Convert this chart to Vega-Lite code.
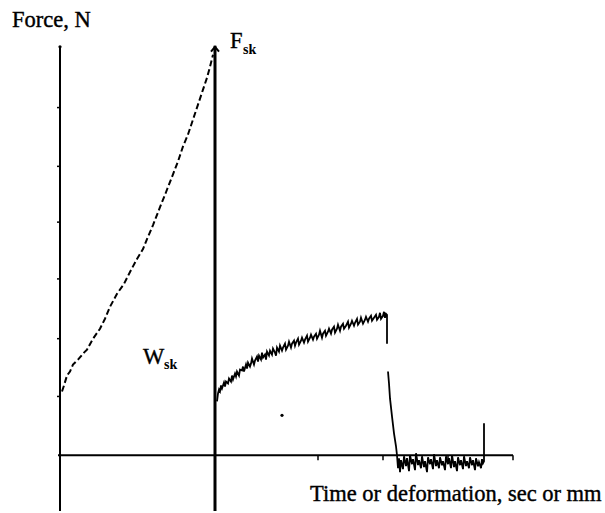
{
  "$schema": "https://vega.github.io/schema/vega-lite/v6.json",
  "width": 605,
  "height": 513,
  "padding": 0,
  "autosize": {"type": "fit", "contains": "padding"},
  "background": "white",
  "config": {"view": {"stroke": null}, "text": {"font": "Liberation Serif", "color": "black"}},
  "datasets": {
    "axes": [
      {"t": 0, "f": -56, "t2": 0, "f2": 410},
      {"t": -2, "f": 0, "t2": 453, "f2": 0}
    ],
    "fsk": [
      {"t": 155, "f": -56, "t2": 155, "f2": 411}
    ],
    "yticks": [
      {"t": -3, "f": 349, "t2": 0, "f2": 349},
      {"t": -3, "f": 290, "t2": 0, "f2": 290},
      {"t": -3, "f": 234, "t2": 0, "f2": 234},
      {"t": -3, "f": 177, "t2": 0, "f2": 177},
      {"t": -3, "f": 117, "t2": 0, "f2": 117},
      {"t": -3, "f": 59, "t2": 0, "f2": 59}
    ],
    "xticks": [
      {"t": 258, "f": 0, "t2": 258, "f2": -5},
      {"t": 323, "f": 0, "t2": 323, "f2": -5},
      {"t": 388, "f": 0, "t2": 388, "f2": -5},
      {"t": 453, "f": 0, "t2": 453, "f2": -5}
    ],
    "loading": [
      {"t": 2, "f": 64}, {"t": 4, "f": 70}, {"t": 7, "f": 80}, {"t": 10, "f": 84},
      {"t": 13, "f": 91}, {"t": 18, "f": 96}, {"t": 24, "f": 103}, {"t": 27, "f": 106},
      {"t": 33, "f": 117}, {"t": 40, "f": 127}, {"t": 45, "f": 137}, {"t": 50, "f": 149},
      {"t": 57, "f": 162}, {"t": 64, "f": 172}, {"t": 70, "f": 184}, {"t": 77, "f": 197},
      {"t": 83, "f": 207}, {"t": 87, "f": 217}, {"t": 93, "f": 231}, {"t": 100, "f": 249},
      {"t": 106, "f": 264}, {"t": 113, "f": 282}, {"t": 118, "f": 295}, {"t": 123, "f": 310},
      {"t": 128, "f": 322}, {"t": 133, "f": 337}, {"t": 138, "f": 352}, {"t": 143, "f": 367},
      {"t": 147, "f": 379}, {"t": 150, "f": 390}, {"t": 153, "f": 402}
    ],
    "second": [
      {"t": 157, "f": 54}, {"t": 158, "f": 62}, {"t": 159, "f": 66}, {"t": 160, "f": 64},
      {"t": 161, "f": 70}, {"t": 162, "f": 67}, {"t": 164, "f": 73}, {"t": 165, "f": 69},
      {"t": 166, "f": 74}, {"t": 168, "f": 72}, {"t": 169, "f": 77}, {"t": 171, "f": 74},
      {"t": 172, "f": 80}, {"t": 173, "f": 76}, {"t": 175, "f": 82}, {"t": 176, "f": 79},
      {"t": 177, "f": 84}, {"t": 179, "f": 80}, {"t": 180, "f": 86}, {"t": 182, "f": 85},
      {"t": 183, "f": 89}, {"t": 184, "f": 84}, {"t": 186, "f": 91}, {"t": 187, "f": 87},
      {"t": 188, "f": 93}, {"t": 190, "f": 89}, {"t": 191, "f": 92}, {"t": 192, "f": 97},
      {"t": 194, "f": 91}, {"t": 195, "f": 95}, {"t": 197, "f": 99}, {"t": 198, "f": 94},
      {"t": 199, "f": 100}, {"t": 201, "f": 96}, {"t": 202, "f": 103}, {"t": 203, "f": 98},
      {"t": 205, "f": 101}, {"t": 206, "f": 96}, {"t": 207, "f": 104}, {"t": 209, "f": 100},
      {"t": 210, "f": 105}, {"t": 212, "f": 101}, {"t": 213, "f": 107}, {"t": 215, "f": 103},
      {"t": 216, "f": 100}, {"t": 217, "f": 108}, {"t": 219, "f": 104}, {"t": 220, "f": 110},
      {"t": 222, "f": 105}, {"t": 223, "f": 108}, {"t": 225, "f": 112}, {"t": 226, "f": 106},
      {"t": 228, "f": 110}, {"t": 229, "f": 114}, {"t": 231, "f": 108}, {"t": 232, "f": 112},
      {"t": 234, "f": 115}, {"t": 235, "f": 110}, {"t": 236, "f": 113}, {"t": 238, "f": 117},
      {"t": 239, "f": 111}, {"t": 241, "f": 115}, {"t": 242, "f": 118}, {"t": 244, "f": 113},
      {"t": 245, "f": 116}, {"t": 247, "f": 120}, {"t": 248, "f": 114}, {"t": 250, "f": 118},
      {"t": 251, "f": 121}, {"t": 253, "f": 116}, {"t": 254, "f": 119}, {"t": 256, "f": 122},
      {"t": 257, "f": 117}, {"t": 259, "f": 121}, {"t": 260, "f": 125}, {"t": 262, "f": 118},
      {"t": 263, "f": 122}, {"t": 265, "f": 125}, {"t": 266, "f": 120}, {"t": 268, "f": 124},
      {"t": 269, "f": 127}, {"t": 271, "f": 122}, {"t": 272, "f": 126}, {"t": 274, "f": 129},
      {"t": 275, "f": 123}, {"t": 277, "f": 127}, {"t": 278, "f": 131}, {"t": 280, "f": 125},
      {"t": 281, "f": 129}, {"t": 283, "f": 132}, {"t": 284, "f": 127}, {"t": 286, "f": 130},
      {"t": 288, "f": 134}, {"t": 289, "f": 128}, {"t": 291, "f": 132}, {"t": 292, "f": 135},
      {"t": 294, "f": 130}, {"t": 295, "f": 133}, {"t": 297, "f": 137}, {"t": 298, "f": 131},
      {"t": 300, "f": 134}, {"t": 301, "f": 138}, {"t": 303, "f": 132}, {"t": 305, "f": 136},
      {"t": 306, "f": 139}, {"t": 308, "f": 134}, {"t": 309, "f": 137}, {"t": 311, "f": 140},
      {"t": 312, "f": 135}, {"t": 314, "f": 138}, {"t": 316, "f": 141}, {"t": 317, "f": 136},
      {"t": 319, "f": 139}, {"t": 320, "f": 143}, {"t": 321, "f": 137}, {"t": 323, "f": 140},
      {"t": 324, "f": 144}, {"t": 325, "f": 138}, {"t": 326, "f": 142}, {"t": 327, "f": 141},
      {"t": 327, "f": 112}
    ],
    "failure": [
      {"t": 328, "f": 84}, {"t": 329, "f": 72}, {"t": 330, "f": 57}, {"t": 332, "f": 39},
      {"t": 334, "f": 22}, {"t": 336, "f": 9}, {"t": 337, "f": 0}, {"t": 338, "f": -13},
      {"t": 339, "f": -3}, {"t": 340, "f": -17}, {"t": 341, "f": -5}, {"t": 343, "f": -14},
      {"t": 344, "f": -1}, {"t": 346, "f": -11}, {"t": 347, "f": -3}, {"t": 349, "f": -16},
      {"t": 350, "f": 0}, {"t": 352, "f": -9}, {"t": 353, "f": -4}, {"t": 355, "f": -15},
      {"t": 356, "f": 2}, {"t": 358, "f": -10}, {"t": 359, "f": -5}, {"t": 361, "f": -13},
      {"t": 362, "f": -1}, {"t": 364, "f": -12}, {"t": 365, "f": -6}, {"t": 367, "f": -17},
      {"t": 368, "f": -2}, {"t": 370, "f": -9}, {"t": 371, "f": -4}, {"t": 373, "f": -14},
      {"t": 374, "f": 1}, {"t": 376, "f": -11}, {"t": 377, "f": -5}, {"t": 379, "f": -13},
      {"t": 380, "f": -2}, {"t": 382, "f": -10}, {"t": 383, "f": -6}, {"t": 385, "f": -15},
      {"t": 386, "f": -1}, {"t": 388, "f": -9}, {"t": 389, "f": -3}, {"t": 391, "f": -13},
      {"t": 392, "f": 0}, {"t": 394, "f": -12}, {"t": 395, "f": -6}, {"t": 397, "f": -16},
      {"t": 398, "f": -2}, {"t": 400, "f": -10}, {"t": 401, "f": -5}, {"t": 403, "f": -14},
      {"t": 404, "f": -1}, {"t": 406, "f": -11}, {"t": 407, "f": -6}, {"t": 409, "f": -13},
      {"t": 410, "f": -2}, {"t": 412, "f": -10}, {"t": 413, "f": -5}, {"t": 415, "f": -15},
      {"t": 416, "f": -3}, {"t": 418, "f": -11}, {"t": 419, "f": -7}, {"t": 421, "f": -13},
      {"t": 422, "f": -4}, {"t": 423, "f": -8}, {"t": 424, "f": -6}, {"t": 424, "f": 32}
    ],
    "bigtext": [
      {"t": -48, "f": 430, "label": "Force, N"},
      {"t": 250, "f": -46, "label": "Time or deformation, sec or mm"},
      {"t": 170, "f": 409, "label": "F"},
      {"t": 83, "f": 92, "label": "W"}
    ],
    "subtext": [
      {"t": 183, "f": 403, "label": "sk"},
      {"t": 104, "f": 87, "label": "sk"}
    ],
    "tips": [{"t": 155, "f": 408}],
    "dots": [{"t": 0, "f": 410}, {"t": 222, "f": 40}]
  },
  "layer": [
    {
      "data": {"name": "axes"},
      "mark": {"type": "rule", "strokeWidth": 2, "color": "black"},
      "encoding": {
        "x": {"field": "t", "type": "quantitative", "scale": {"domain": [-60, 545], "nice": false, "zero": false}, "axis": null},
        "y": {"field": "f", "type": "quantitative", "scale": {"domain": [-56, 457], "nice": false, "zero": false}, "axis": null},
        "x2": {"field": "t2"},
        "y2": {"field": "f2"}
      }
    },
    {
      "data": {"name": "fsk"},
      "mark": {"type": "rule", "strokeWidth": 3, "color": "black"},
      "encoding": {
        "x": {"field": "t", "type": "quantitative"},
        "y": {"field": "f", "type": "quantitative"},
        "x2": {"field": "t2"},
        "y2": {"field": "f2"}
      }
    },
    {
      "data": {"name": "yticks"},
      "mark": {"type": "rule", "strokeWidth": 1.5, "color": "black"},
      "encoding": {
        "x": {"field": "t", "type": "quantitative"},
        "y": {"field": "f", "type": "quantitative"},
        "x2": {"field": "t2"},
        "y2": {"field": "f2"}
      }
    },
    {
      "data": {"name": "xticks"},
      "mark": {"type": "rule", "strokeWidth": 1.5, "color": "black"},
      "encoding": {
        "x": {"field": "t", "type": "quantitative"},
        "y": {"field": "f", "type": "quantitative"},
        "x2": {"field": "t2"},
        "y2": {"field": "f2"}
      }
    },
    {
      "data": {"name": "loading"},
      "mark": {"type": "line", "strokeWidth": 2, "color": "black", "strokeDash": [6, 3]},
      "encoding": {
        "x": {"field": "t", "type": "quantitative"},
        "y": {"field": "f", "type": "quantitative"},
        "order": {"value": null}
      }
    },
    {
      "data": {"name": "second"},
      "mark": {"type": "line", "strokeWidth": 1.8, "color": "black"},
      "encoding": {
        "x": {"field": "t", "type": "quantitative"},
        "y": {"field": "f", "type": "quantitative"},
        "order": {"value": null}
      }
    },
    {
      "data": {"name": "failure"},
      "mark": {"type": "line", "strokeWidth": 1.8, "color": "black"},
      "encoding": {
        "x": {"field": "t", "type": "quantitative"},
        "y": {"field": "f", "type": "quantitative"},
        "order": {"value": null}
      }
    },
    {
      "data": {"name": "tips"},
      "mark": {"type": "point", "shape": "M-1,0.7L0,-0.5L1,0.7", "size": 64, "filled": false, "strokeWidth": 2, "color": "black", "opacity": 1},
      "encoding": {
        "x": {"field": "t", "type": "quantitative"},
        "y": {"field": "f", "type": "quantitative"}
      }
    },
    {
      "data": {"name": "dots"},
      "mark": {"type": "point", "shape": "circle", "size": 10, "filled": true, "color": "black", "opacity": 1},
      "encoding": {
        "x": {"field": "t", "type": "quantitative"},
        "y": {"field": "f", "type": "quantitative"}
      }
    },
    {
      "data": {"name": "bigtext"},
      "mark": {"type": "text", "fontSize": 22.5, "align": "left", "baseline": "alphabetic", "font": "Liberation Serif", "stroke": "black", "strokeWidth": 0.4},
      "encoding": {
        "x": {"field": "t", "type": "quantitative"},
        "y": {"field": "f", "type": "quantitative"},
        "text": {"field": "label"}
      }
    },
    {
      "data": {"name": "subtext"},
      "mark": {"type": "text", "fontSize": 14, "fontWeight": "bold", "align": "left", "baseline": "alphabetic", "font": "Liberation Serif"},
      "encoding": {
        "x": {"field": "t", "type": "quantitative"},
        "y": {"field": "f", "type": "quantitative"},
        "text": {"field": "label"}
      }
    }
  ]
}
